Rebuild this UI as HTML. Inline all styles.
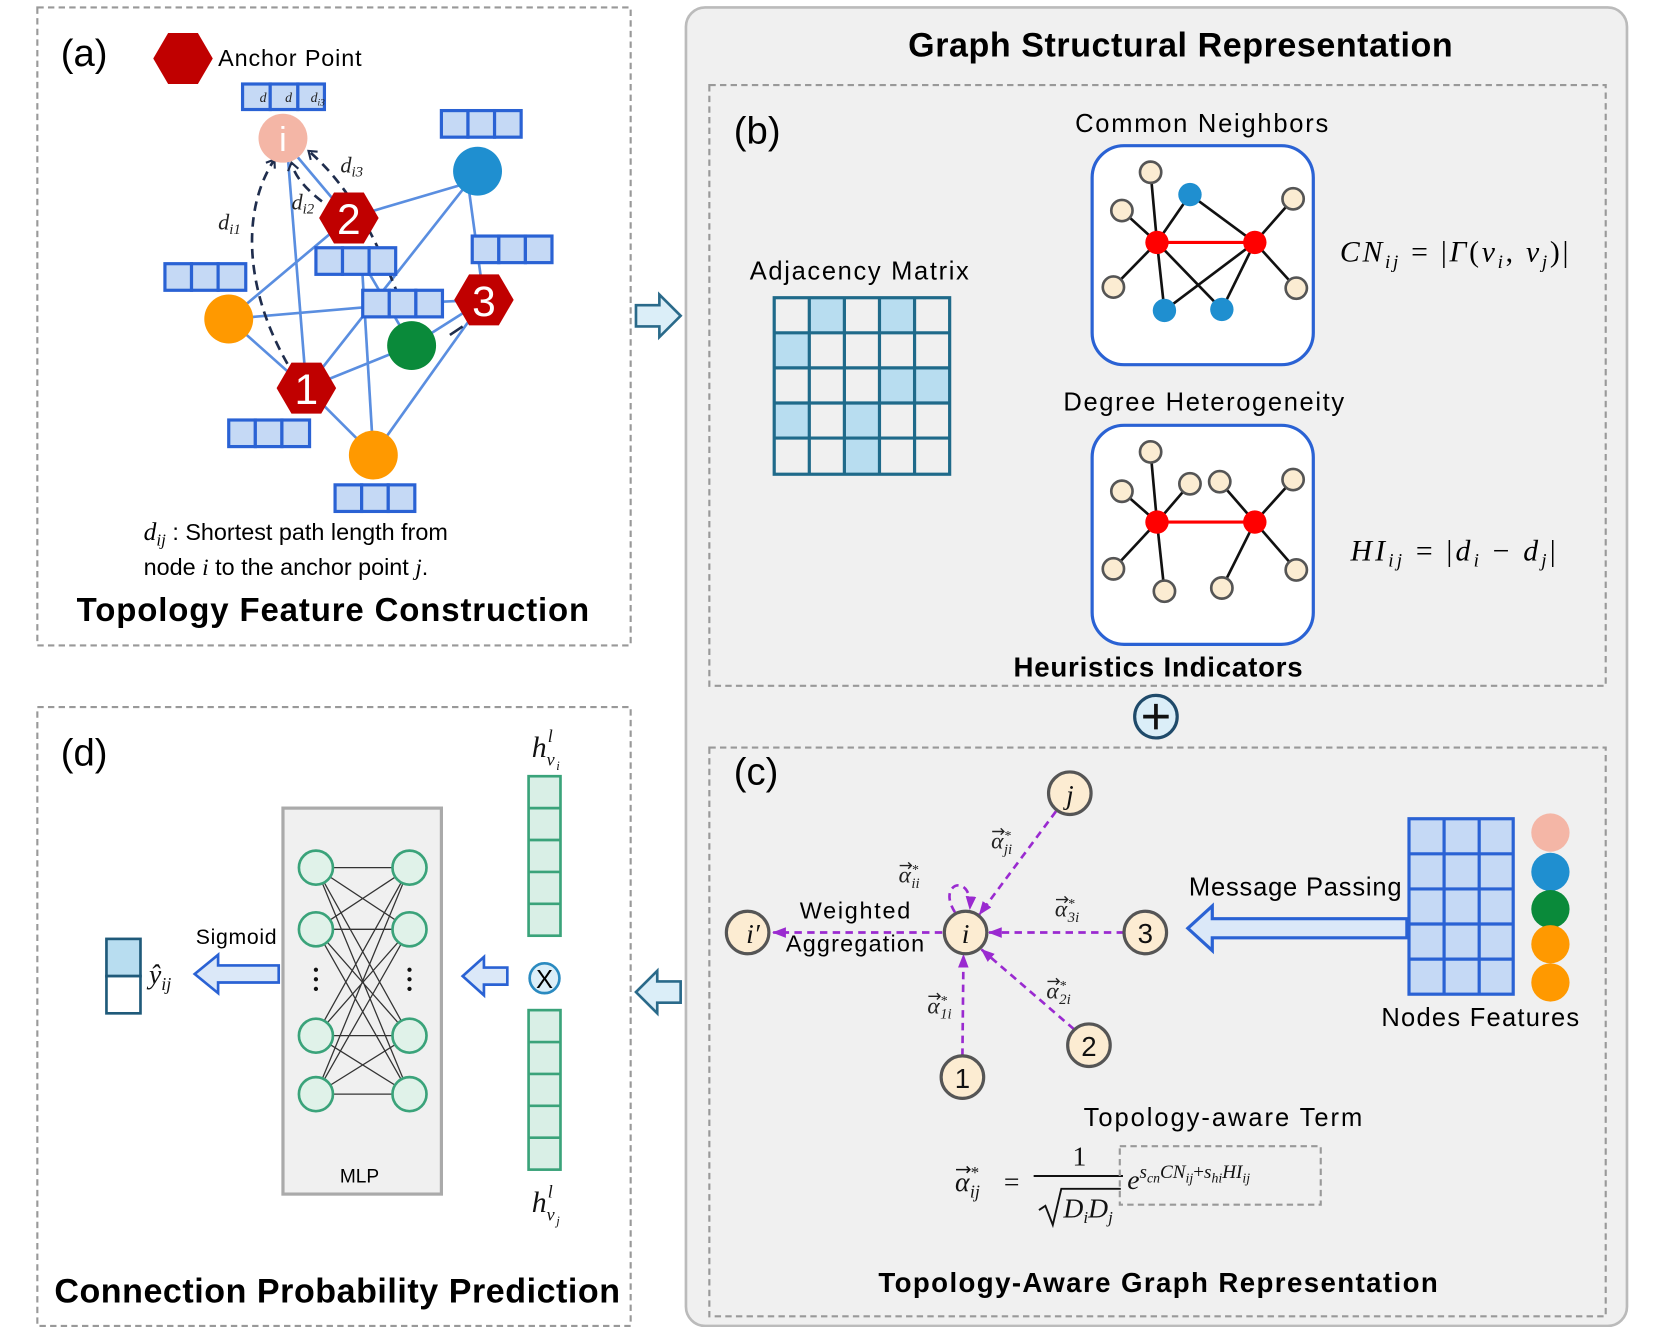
<!DOCTYPE html>
<html><head><meta charset="utf-8"><style>html,body{margin:0;padding:0;background:#fff}svg{display:block}</style></head><body>
<svg width="1659" height="1327" viewBox="0 0 1560 1248" xmlns="http://www.w3.org/2000/svg" font-family="'Liberation Sans', sans-serif">
<defs>
<marker id="ad" markerUnits="userSpaceOnUse" markerWidth="12" markerHeight="12" refX="9" refY="6" orient="auto"><path d="M2,1 L9,6 L2,11" fill="none" stroke="#1f2d4d" stroke-width="2"/></marker>
<marker id="ap" markerUnits="userSpaceOnUse" markerWidth="14" markerHeight="12" refX="12" refY="6" orient="auto"><path d="M0,1 L13,6 L0,11 Z" fill="#9a2ad0"/></marker>
</defs>
<!-- panel boxes -->
<rect x="35" y="7" width="558" height="600" fill="#fff" stroke="#999" stroke-width="2" stroke-dasharray="6,4"/>
<rect x="645" y="7" width="885" height="1240" rx="18" fill="#f0f0f0" stroke="#bbb" stroke-width="2.5"/>
<rect x="667" y="80" width="843" height="565" fill="none" stroke="#999" stroke-width="2" stroke-dasharray="6,4"/>
<rect x="667" y="703" width="843" height="535" fill="none" stroke="#999" stroke-width="2" stroke-dasharray="6,4"/>
<rect x="35" y="665" width="558" height="582" fill="#fff" stroke="#999" stroke-width="2" stroke-dasharray="6,4"/>

<!-- (a) -->
<text x="57" y="62" font-size="36">(a)</text>
<polygon points="158,31 186,31 200,55 186,79 158,79 144,55" fill="#c00000"/>
<text x="205" y="62" font-size="22" textLength="135">Anchor Point</text>
<g stroke="#5a8ee0" stroke-width="2.5" fill="none">
<line x1="270" y1="140" x2="288" y2="365"/>
<line x1="280" y1="148" x2="328" y2="205"/>
<line x1="215" y1="300" x2="328" y2="205"/>
<line x1="215" y1="300" x2="390" y2="285"/>
<line x1="215" y1="300" x2="288" y2="365"/>
<line x1="328" y1="205" x2="440" y2="172"/>
<line x1="440" y1="172" x2="288" y2="365"/>
<line x1="440" y1="172" x2="455" y2="282"/>
<line x1="288" y1="365" x2="387" y2="325"/>
<line x1="288" y1="365" x2="351" y2="428"/>
<line x1="340" y1="245" x2="351" y2="428"/>
<line x1="340" y1="245" x2="387" y2="325"/>
<line x1="351" y1="428" x2="455" y2="282"/>
<line x1="387" y1="325" x2="455" y2="282"/>
<line x1="387" y1="285" x2="455" y2="282"/>
</g>
<g stroke="#1f2d4d" stroke-width="2.5" fill="none" stroke-dasharray="9,6" marker-end="url(#ad)">
<path d="M278,355 C230,280 225,200 258,150"/>
<path d="M315,198 C295,185 278,170 274,153"/>
<path d="M380,292 C360,240 335,180 290,142"/>
</g>
<path d="M423,315 L435,307" stroke="#1f2d4d" stroke-width="2.5"/>
<g fill="#c5d9f5" stroke="#2a62d4" stroke-width="3">
<rect x="228" y="79" width="26" height="24"/><rect x="254" y="79" width="26" height="24"/><rect x="280" y="79" width="25" height="24"/>
<rect x="415" y="104" width="25" height="25"/><rect x="440" y="104" width="25" height="25"/><rect x="465" y="104" width="25" height="25"/>
<rect x="444" y="222" width="25" height="25"/><rect x="469" y="222" width="25" height="25"/><rect x="494" y="222" width="25" height="25"/>
<rect x="155" y="248" width="25" height="25"/><rect x="180" y="248" width="25" height="25"/><rect x="205" y="248" width="26" height="25"/>
<rect x="297" y="233" width="25" height="25"/><rect x="322" y="233" width="25" height="25"/><rect x="347" y="233" width="25" height="25"/>
<rect x="341" y="273" width="25" height="25"/><rect x="366" y="273" width="25" height="25"/><rect x="391" y="273" width="25" height="25"/>
<rect x="215" y="395" width="25" height="25"/><rect x="240" y="395" width="25" height="25"/><rect x="265" y="395" width="26" height="25"/>
<rect x="315" y="456" width="25" height="25"/><rect x="340" y="456" width="25" height="25"/><rect x="365" y="456" width="25" height="25"/>
</g>
<g font-family="'Liberation Serif', serif" font-style="italic" font-size="13" fill="#222">
<text x="244" y="96">d</text><text x="268" y="96">d</text><text x="292" y="96">d<tspan font-size="9" dy="3">i3</tspan></text>
</g>
<circle cx="266" cy="130" r="23" fill="#f4b6a6"/>
<text x="266" y="142" font-size="32" fill="#fff" text-anchor="middle">i</text>
<circle cx="449" cy="161" r="23" fill="#1f8fd0"/>
<circle cx="215" cy="300" r="23" fill="#ff9900"/>
<circle cx="387" cy="325" r="23" fill="#0a8a3a"/>
<circle cx="351" cy="428" r="23" fill="#ff9900"/>
<g fill="#c00000">
<polygon points="314,181 342,181 356,205 342,229 314,229 300,205"/>
<polygon points="441,258 469,258 483,282 469,306 441,306 427,282"/>
<polygon points="274,341 302,341 316,365 302,389 274,389 260,365"/>
</g>
<g fill="#fff" font-size="40" text-anchor="middle">
<text x="328" y="220">2</text><text x="455" y="297">3</text><text x="288" y="380">1</text>
</g>
<g font-family="'Liberation Serif', serif" font-style="italic" font-size="21" fill="#222">
<text x="205" y="216">d<tspan font-size="14" dy="4">i1</tspan></text>
<text x="274" y="197">d<tspan font-size="14" dy="4">i2</tspan></text>
<text x="320" y="162">d<tspan font-size="14" dy="4">i3</tspan></text>
</g>
<text x="135" y="508" font-size="22"><tspan font-family="'Liberation Serif', serif" font-style="italic" font-size="24">d</tspan><tspan font-family="'Liberation Serif', serif" font-style="italic" font-size="16" dy="5">ij</tspan><tspan dy="-5"> : Shortest path length from</tspan></text>
<text x="135" y="541" font-size="22">node <tspan font-family="'Liberation Serif', serif" font-style="italic">i</tspan> to the anchor point <tspan font-family="'Liberation Serif', serif" font-style="italic">j</tspan>.</text>
<text x="313" y="584" font-size="31" font-weight="bold" text-anchor="middle" textLength="482">Topology Feature Construction</text>

<!-- arrows between panels -->
<polygon points="598,287 620,287 620,277 640,297 620,317 620,307 598,307" fill="#dbeef8" stroke="#2a6a8a" stroke-width="2.5"/>
<polygon points="640,923 618,923 618,913 598,933 618,953 618,943 640,943" fill="#dbeef8" stroke="#2a6a8a" stroke-width="2.5"/>

<!-- big title -->
<text x="1110" y="53" font-size="32" font-weight="bold" text-anchor="middle" textLength="512">Graph Structural Representation</text>

<!-- (b) -->
<text x="690" y="135" font-size="36">(b)</text>
<text x="808" y="263" font-size="24" text-anchor="middle" textLength="206">Adjacency Matrix</text>
<g fill="#b8ddf0">
<rect x="761" y="280" width="33" height="33"/><rect x="827" y="280" width="33" height="33"/>
<rect x="728" y="313" width="33" height="33"/>
<rect x="827" y="346" width="33" height="33"/><rect x="860" y="346" width="33" height="33"/>
<rect x="728" y="379" width="33" height="33"/><rect x="794" y="379" width="33" height="33"/>
<rect x="794" y="412" width="33" height="34"/>
</g>
<g stroke="#1f6a8a" stroke-width="3" fill="none">
<rect x="728" y="280" width="165" height="166"/>
<path d="M761,280V446M794,280V446M827,280V446M860,280V446M728,313H893M728,346H893M728,379H893M728,412H893"/>
</g>
<text x="1130" y="124" font-size="24" text-anchor="middle" textLength="238">Common Neighbors</text>
<rect x="1027" y="137" width="208" height="206" rx="30" fill="#fff" stroke="#2a62d4" stroke-width="3"/>
<g stroke="#111" stroke-width="2.5">
<line x1="1088" y1="228" x2="1082" y2="162"/><line x1="1088" y1="228" x2="1055" y2="198"/><line x1="1088" y1="228" x2="1047" y2="270"/>
<line x1="1088" y1="228" x2="1095" y2="292"/><line x1="1088" y1="228" x2="1149" y2="291"/><line x1="1088" y1="228" x2="1119" y2="183"/>
<line x1="1180" y1="228" x2="1119" y2="183"/><line x1="1180" y1="228" x2="1095" y2="292"/><line x1="1180" y1="228" x2="1149" y2="291"/>
<line x1="1180" y1="228" x2="1216" y2="187"/><line x1="1180" y1="228" x2="1219" y2="271"/>
</g>
<line x1="1088" y1="228" x2="1180" y2="228" stroke="#f00" stroke-width="3"/>
<g fill="#fbecd2" stroke="#555" stroke-width="2.5">
<circle cx="1082" cy="162" r="10"/><circle cx="1055" cy="198" r="10"/><circle cx="1047" cy="270" r="10"/><circle cx="1216" cy="187" r="10"/><circle cx="1219" cy="271" r="10"/>
</g>
<g fill="#1f8fd0"><circle cx="1119" cy="183" r="11"/><circle cx="1095" cy="292" r="11"/><circle cx="1149" cy="291" r="11"/></g>
<g fill="#f00"><circle cx="1088" cy="228" r="11"/><circle cx="1180" cy="228" r="11"/></g>
<text x="1260" y="246" font-family="'Liberation Serif', serif" font-style="italic" font-size="28" textLength="215">CN<tspan font-size="18" dy="6">ij</tspan><tspan dy="-6" font-style="normal"> = |</tspan>Γ<tspan font-style="normal">(</tspan>v<tspan font-size="18" dy="6">i</tspan><tspan dy="-6" font-style="normal">, </tspan>v<tspan font-size="18" dy="6">j</tspan><tspan dy="-6" font-style="normal">)|</tspan></text>

<text x="1132" y="386" font-size="24" text-anchor="middle" textLength="264">Degree Heterogeneity</text>
<rect x="1027" y="400" width="208" height="206" rx="30" fill="#fff" stroke="#2a62d4" stroke-width="3"/>
<g stroke="#111" stroke-width="2.5">
<line x1="1088" y1="491" x2="1082" y2="425"/><line x1="1088" y1="491" x2="1055" y2="462"/><line x1="1088" y1="491" x2="1119" y2="455"/>
<line x1="1088" y1="491" x2="1047" y2="535"/><line x1="1088" y1="491" x2="1095" y2="556"/>
<line x1="1180" y1="491" x2="1147" y2="453"/><line x1="1180" y1="491" x2="1216" y2="451"/><line x1="1180" y1="491" x2="1149" y2="553"/><line x1="1180" y1="491" x2="1219" y2="536"/>
</g>
<line x1="1088" y1="491" x2="1180" y2="491" stroke="#f00" stroke-width="3"/>
<g fill="#fbecd2" stroke="#555" stroke-width="2.5">
<circle cx="1082" cy="425" r="10"/><circle cx="1055" cy="462" r="10"/><circle cx="1119" cy="455" r="10"/><circle cx="1147" cy="453" r="10"/><circle cx="1216" cy="451" r="10"/>
<circle cx="1047" cy="535" r="10"/><circle cx="1095" cy="556" r="10"/><circle cx="1149" cy="553" r="10"/><circle cx="1219" cy="536" r="10"/>
</g>
<g fill="#f00"><circle cx="1088" cy="491" r="11"/><circle cx="1180" cy="491" r="11"/></g>
<text x="1270" y="527" font-family="'Liberation Serif', serif" font-style="italic" font-size="28" textLength="193">HI<tspan font-size="18" dy="6">ij</tspan><tspan dy="-6" font-style="normal"> = |</tspan>d<tspan font-size="18" dy="6">i</tspan><tspan dy="-6" font-style="normal"> − </tspan>d<tspan font-size="18" dy="6">j</tspan><tspan dy="-6" font-style="normal">|</tspan></text>
<text x="1089" y="636" font-size="26" font-weight="bold" text-anchor="middle" textLength="272">Heuristics Indicators</text>

<circle cx="1087" cy="674" r="20" fill="#dbeef8" stroke="#1f4a6a" stroke-width="3"/>
<path d="M1075,674H1099M1087,662V686" stroke="#111" stroke-width="3.5"/>

<!-- (c) -->
<text x="690" y="738" font-size="36">(c)</text>
<g stroke="#9a2ad0" stroke-width="2.5" fill="none" stroke-dasharray="7,5" marker-end="url(#ap)">
<line x1="993" y1="763" x2="921" y2="860"/>
<line x1="1057" y1="877" x2="930" y2="877"/>
<line x1="1010" y1="968" x2="923" y2="893"/>
<line x1="905" y1="993" x2="906" y2="898"/>
<line x1="886" y1="877" x2="727" y2="877"/>
<path d="M898,858 C880,830 915,820 912,855"/>
</g>
<g fill="#fcecd2" stroke="#555" stroke-width="3">
<circle cx="1006" cy="746" r="20"/><circle cx="908" cy="877" r="20"/><circle cx="703" cy="877" r="20"/>
<circle cx="1077" cy="877" r="20"/><circle cx="1024" cy="983" r="20"/><circle cx="905" cy="1013" r="20"/>
</g>
<g font-size="26" text-anchor="middle" fill="#111">
<text x="1006" y="756" font-family="'Liberation Serif', serif" font-style="italic">j</text>
<text x="908" y="887" font-family="'Liberation Serif', serif" font-style="italic">i</text>
<text x="708" y="887" font-family="'Liberation Serif', serif" font-style="italic">i′</text>
<text x="1077" y="887">3</text><text x="1024" y="993">2</text><text x="905" y="1023">1</text>
</g>
<g font-family="'Liberation Serif', serif" font-style="italic" fill="#222">
<g transform="translate(932,798)"><text font-size="22">α</text><text x="12" y="-8" font-size="13">*</text><text x="12" y="5" font-size="14">ji</text><path d="M1,-16H12M9,-19L12,-16L9,-13" stroke="#222" stroke-width="1.3" fill="none"/></g>
<g transform="translate(845,830)"><text font-size="22">α</text><text x="12" y="-8" font-size="13">*</text><text x="12" y="5" font-size="14">ii</text><path d="M1,-16H12M9,-19L12,-16L9,-13" stroke="#222" stroke-width="1.3" fill="none"/></g>
<g transform="translate(992,862)"><text font-size="22">α</text><text x="12" y="-8" font-size="13">*</text><text x="12" y="5" font-size="14">3i</text><path d="M1,-16H12M9,-19L12,-16L9,-13" stroke="#222" stroke-width="1.3" fill="none"/></g>
<g transform="translate(984,939)"><text font-size="22">α</text><text x="12" y="-8" font-size="13">*</text><text x="12" y="5" font-size="14">2i</text><path d="M1,-16H12M9,-19L12,-16L9,-13" stroke="#222" stroke-width="1.3" fill="none"/></g>
<g transform="translate(872,953)"><text font-size="22">α</text><text x="12" y="-8" font-size="13">*</text><text x="12" y="5" font-size="14">1i</text><path d="M1,-16H12M9,-19L12,-16L9,-13" stroke="#222" stroke-width="1.3" fill="none"/></g>
</g>
<text x="752" y="864" font-size="22" textLength="104">Weighted</text>
<text x="739" y="895" font-size="22" textLength="130">Aggregation</text>
<text x="1218" y="842" font-size="24" text-anchor="middle" textLength="200">Message Passing</text>
<polygon points="1323,864 1140,864 1140,852 1117,873 1140,894 1140,882 1323,882" fill="#dbe8f8" stroke="#2a62d4" stroke-width="3"/>
<rect x="1325" y="770" width="98" height="165" fill="#c5d9f5" stroke="#2a62d4" stroke-width="3"/>
<path d="M1358,770V935M1391,770V935M1325,803H1423M1325,836H1423M1325,869H1423M1325,902H1423" stroke="#2a62d4" stroke-width="3"/>
<circle cx="1458" cy="783" r="18" fill="#f4b6a6"/><circle cx="1458" cy="820" r="18" fill="#1f8fd0"/>
<circle cx="1458" cy="855" r="18" fill="#0a8a3a"/><circle cx="1458" cy="888" r="18" fill="#ff9900"/><circle cx="1458" cy="924" r="18" fill="#ff9900"/>
<text x="1392" y="965" font-size="24" text-anchor="middle" textLength="186">Nodes Features</text>
<text x="1150" y="1059" font-size="24" text-anchor="middle" textLength="262">Topology-aware Term</text>
<g font-family="'Liberation Serif', serif" font-size="26" fill="#111">
<g transform="translate(898,1120)" font-style="italic"><text font-size="26">α</text><text x="14" y="-12" font-size="16">*</text><text x="14" y="6" font-size="17">ij</text><path d="M1,-20H14M11,-23L14,-20L11,-17" stroke="#111" stroke-width="1.4" fill="none"/></g>
<text x="944" y="1120">=</text>
<text x="1015" y="1096" text-anchor="middle">1</text>
<line x1="972" y1="1106" x2="1056" y2="1106" stroke="#111" stroke-width="1.8"/>
<path d="M977,1138 L983,1134 L990,1152 L998,1118 L1054,1118" fill="none" stroke="#111" stroke-width="1.8"/>
<text x="1000" y="1145" font-style="italic">D<tspan font-size="16" dy="5">i</tspan><tspan dy="-5">D</tspan><tspan font-size="16" dy="5">j</tspan></text>
<rect x="1053" y="1078" width="189" height="55" fill="none" stroke="#999" stroke-width="2" stroke-dasharray="6,4"/>
<text x="1060" y="1118" font-style="italic">e<tspan font-size="18" dy="-10">s<tspan font-size="13" dy="4">cn</tspan><tspan dy="-4">CN</tspan><tspan font-size="13" dy="4">ij</tspan><tspan dy="-4" font-style="normal">+</tspan>s<tspan font-size="13" dy="4">hi</tspan><tspan dy="-4">HI</tspan><tspan font-size="13" dy="4">ij</tspan></tspan></text>
</g>
<text x="1089" y="1215" font-size="26" font-weight="bold" text-anchor="middle" textLength="526">Topology-Aware Graph Representation</text>

<!-- (d) -->
<text x="57" y="720" font-size="36">(d)</text>
<rect x="266" y="760" width="149" height="363" fill="#f0f0f0" stroke="#aaa" stroke-width="3"/>
<g stroke="#333" stroke-width="1.2">
<path d="M297,816L385,816M297,816L385,874M297,816L385,974M297,816L385,1029M297,874L385,816M297,874L385,874M297,874L385,974M297,874L385,1029M297,974L385,816M297,974L385,874M297,974L385,974M297,974L385,1029M297,1029L385,816M297,1029L385,874M297,1029L385,974M297,1029L385,1029"/>
</g>
<g fill="#e0f2e9" stroke="#3aa37a" stroke-width="2.5">
<circle cx="297" cy="816" r="16"/><circle cx="297" cy="874" r="16"/><circle cx="297" cy="974" r="16"/><circle cx="297" cy="1029" r="16"/>
<circle cx="385" cy="816" r="16"/><circle cx="385" cy="874" r="16"/><circle cx="385" cy="974" r="16"/><circle cx="385" cy="1029" r="16"/>
</g>
<g fill="#111"><circle cx="297" cy="912" r="2"/><circle cx="297" cy="921" r="2"/><circle cx="297" cy="930" r="2"/>
<circle cx="385" cy="912" r="2"/><circle cx="385" cy="921" r="2"/><circle cx="385" cy="930" r="2"/></g>
<text x="338" y="1112" font-size="18" text-anchor="middle">MLP</text>
<rect x="497" y="730" width="30" height="150" fill="#d9efe6" stroke="#3aa37a" stroke-width="2.5"/>
<path d="M497,760H527M497,790H527M497,820H527M497,850H527" stroke="#3aa37a" stroke-width="2.5"/>
<rect x="497" y="950" width="30" height="150" fill="#d9efe6" stroke="#3aa37a" stroke-width="2.5"/>
<path d="M497,980H527M497,1010H527M497,1040H527M497,1070H527" stroke="#3aa37a" stroke-width="2.5"/>
<circle cx="512" cy="920" r="14" fill="#dbeef8" stroke="#2a8ac0" stroke-width="2.5"/>
<text x="512" y="929" font-size="24" text-anchor="middle">X</text>
<g font-family="'Liberation Serif', serif" font-style="italic" fill="#111">
<text x="500" y="712" font-size="28">h</text><text x="515" y="698" font-size="17">l</text><text x="514" y="720" font-size="17">v</text><text x="523" y="724" font-size="12">i</text>
<text x="500" y="1140" font-size="28">h</text><text x="515" y="1126" font-size="17">l</text><text x="514" y="1148" font-size="17">v</text><text x="523" y="1152" font-size="12">j</text>
<text x="140" y="925" font-size="26">ŷ<tspan font-size="17" dy="6">ij</tspan></text>
</g>
<polygon points="477,910 455,910 455,900 435,918 455,936 455,926 477,926" fill="#dbe8f8" stroke="#2a62d4" stroke-width="2.5"/>
<polygon points="262,908 205,908 205,898 183,916 205,934 205,924 262,924" fill="#dbe8f8" stroke="#2a62d4" stroke-width="2.5"/>
<text x="222" y="888" font-size="20" text-anchor="middle" textLength="76">Sigmoid</text>
<rect x="100" y="883" width="32" height="35" fill="#b8ddf0" stroke="#1f5a7a" stroke-width="2.5"/>
<rect x="100" y="918" width="32" height="35" fill="#fff" stroke="#1f5a7a" stroke-width="2.5"/>
<text x="317" y="1225" font-size="32" font-weight="bold" text-anchor="middle" textLength="532">Connection Probability Prediction</text>
</svg>
</body></html>
